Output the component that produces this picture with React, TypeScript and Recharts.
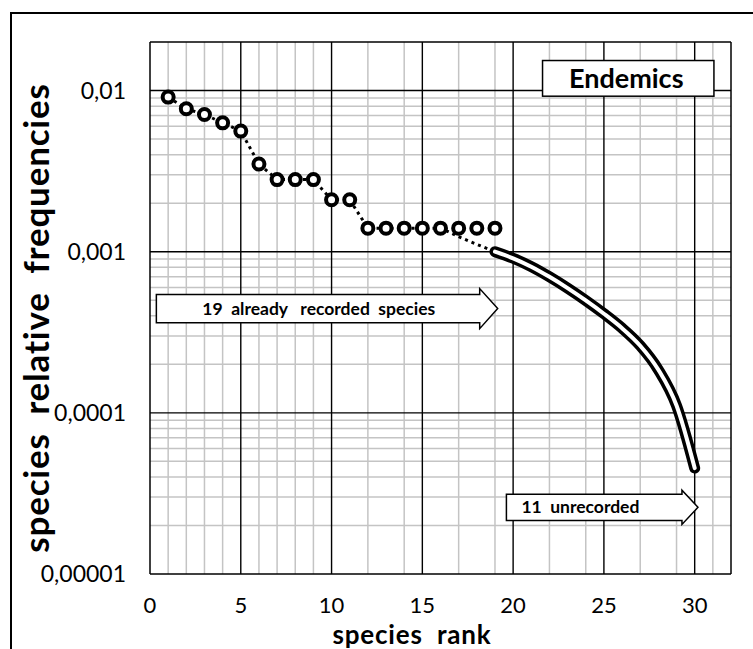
import { ComposedChart, Line, XAxis, YAxis, CartesianGrid, ReferenceLine, ReferenceArea } from 'recharts'

const OBSERVED_RANKS = [1, 2, 3, 4, 5, 6, 7, 8, 9, 10, 11, 12, 13, 14, 15, 16, 17, 18, 19]
const OBSERVED_FREQ = [0.0091, 0.0077, 0.0071, 0.0063, 0.0056, 0.0035, 0.0028, 0.0028, 0.0028, 0.0021, 0.0021, 0.0014, 0.0014, 0.0014, 0.0014, 0.0014, 0.0014, 0.0014, 0.0014]

const TREND_RANKS = [1, 2, 3, 4, 5, 6, 7, 8, 9, 10, 11, 12, 13, 14, 15, 16, 17, 18, 19]
const TREND_FREQ = [0.0091, 0.0077, 0.0071, 0.0063, 0.0056, 0.0035, 0.0028, 0.0028, 0.0028, 0.0021, 0.0021, 0.0014, 0.0014, 0.0014, 0.0014, 0.0014, 0.00124, 0.00111, 0.001]

const PROJECTED_RANKS = [19, 20, 21, 22, 23, 24, 25, 26, 27, 28, 29, 30]
const PROJECTED_FREQ = [0.001, 0.00091, 0.000807, 0.000698, 0.000594, 0.000498, 0.000412, 0.000335, 0.000261, 0.000185, 0.000111, 0.0000454]

const X_TICKS = [0, 5, 10, 15, 20, 25, 30]
const Y_TICKS = [0.00001, 0.0001, 0.001, 0.01]
const Y_TICK_LABELS = ['0,00001', '0,0001', '0,001', '0,01']

const X_MAJOR = [5, 10, 15, 20, 25, 30]
const X_MINOR = Array.from({ length: 31 }, (_, i) => i + 1).filter((v) => v % 5 !== 0)
const Y_MAJOR = [0.0001, 0.001, 0.01]
const Y_MINOR = Y_TICKS.flatMap((d) => [2, 3, 4, 5, 6, 7, 8, 9].map((m) => m * d)).filter((v) => v < 0.02)

const observed = OBSERVED_RANKS.map((rank, i) => ({ rank, freq: OBSERVED_FREQ[i] }))
const trend = TREND_RANKS.map((rank, i) => ({ rank, freq: TREND_FREQ[i] }))
const projected = PROJECTED_RANKS.map((rank, i) => ({ rank, freq: PROJECTED_FREQ[i] }))

const FONT = 'Lato, "Open Sans", sans-serif'

function arrow(label: string, headLen: number, inset: number, pad: number) {
  return (p: any) => {
    const { x, y, width, height } = p
    const x2 = x + width
    const top = y + inset
    const bot = y + height - inset
    const pts = [
      [x, top], [x2 - headLen, top], [x2 - headLen, y], [x2, y + height / 2],
      [x2 - headLen, y + height], [x2 - headLen, bot], [x, bot],
    ].map((q) => q.join(',')).join(' ')
    return (
      <g>
        <polygon points={pts} fill="#fff" stroke="#000" strokeWidth={1.5} />
        <text x={x + pad} y={y + height / 2 + 6} textAnchor="start"
          fontFamily={FONT} fontWeight={700} fontSize={17.5} fill="#000" style={{ whiteSpace: 'pre' }}>
          {label}
        </text>
      </g>
    )
  }
}

function titleBox(p: any) {
  const { x, y, width, height } = p
  return (
    <g>
      <rect x={x} y={y} width={width} height={height} fill="#fff" stroke="#000" strokeWidth={1.5} />
      <text x={x + width / 2 - 2} y={y + height / 2 + 10} textAnchor="middle"
        fontFamily={FONT} fontWeight={700} fontSize={27} fill="#000">Endemics</text>
    </g>
  )
}

export default function App() {
  return (
    <div style={{ position: 'absolute', left: 0, top: 0, width: 753, height: 649, background: '#fff', fontFamily: FONT }}>
      <div style={{ position: 'absolute', left: 10, top: 12, width: 1.5, height: 637, background: '#000' }} />
      <div style={{ position: 'absolute', left: 10, top: 12, width: 743, height: 1.5, background: '#000' }} />
      <div style={{ position: 'absolute', left: 0, top: 0 }}>
        <ComposedChart width={753} height={649} margin={{ top: 42, right: 22, bottom: 15, left: 30 }}>
          <CartesianGrid stroke="#c4c4c4" strokeWidth={1.5} horizontalValues={Y_MINOR} verticalValues={X_MINOR} />
          <CartesianGrid stroke="#000" strokeWidth={1.4} horizontalValues={Y_MAJOR} verticalValues={X_MAJOR} />
          <XAxis type="number" dataKey="rank" domain={[0, 32]} ticks={X_TICKS} allowDataOverflow
            height={60} tickSize={0} tickMargin={23} axisLine={false} tickLine={false}
            tick={{ fill: '#000', fontSize: 22, fontFamily: FONT }}
            label={() => (
              <text x={412} y={644} textAnchor="middle" fontFamily={FONT} fontWeight={700} fontSize={26} fill="#000"
                letterSpacing={0.8} style={{ whiteSpace: 'pre' }}>
                species  rank
              </text>
            )} />
          <YAxis type="number" scale="log" domain={[0.00001, 0.02]} ticks={Y_TICKS} allowDataOverflow
            width={120} tickSize={0} tickMargin={24} axisLine={false} tickLine={false}
            tickFormatter={(v: number) => Y_TICK_LABELS[Y_TICKS.indexOf(v)] ?? ''}
            tick={{ fill: '#000', fontSize: 23, fontFamily: FONT }}
            label={() => (
              <text x={0} y={0} transform="translate(49 318) rotate(-90)" textAnchor="middle"
                fontFamily={FONT} fontWeight={700} fontSize={35} fill="#000" letterSpacing={0.8}
                style={{ whiteSpace: 'pre' }}>
                species  relative  frequencies
              </text>
            )} />
          <ReferenceLine x={0} stroke="#000" strokeWidth={1.5} />
          <ReferenceLine x={32} stroke="#000" strokeWidth={1.5} />
          <ReferenceLine y={0.00001} stroke="#000" strokeWidth={1.5} />
          <ReferenceLine y={0.02} stroke="#000" strokeWidth={1.5} />
          <ReferenceArea x1={0.35} x2={19.15} y1={0.000333} y2={0.00059} ifOverflow="visible"
            shape={arrow('19  already   recorded  species', 18, 6, 46)} />
          <ReferenceArea x1={19.63} x2={30.18} y1={0.0000203} y2={0.0000331} ifOverflow="visible"
            shape={arrow('11  unrecorded', 16, 4, 15)} />
          <ReferenceArea x1={21.62} x2={31.06} y1={0.00922} y2={0.01535} ifOverflow="visible" shape={titleBox} />
          <Line data={trend} dataKey="freq" type="linear" stroke="#000" strokeWidth={3} strokeDasharray="3 4"
            dot={false} activeDot={false} isAnimationActive={false} />
          <Line data={projected} dataKey="freq" type="monotone" stroke="#000" strokeWidth={11} strokeLinecap="round"
            dot={false} activeDot={false} isAnimationActive={false} />
          <Line data={projected} dataKey="freq" type="monotone" stroke="#fff" strokeWidth={4} strokeLinecap="round"
            dot={false} activeDot={false} isAnimationActive={false} />
          <Line data={observed} dataKey="freq" type="linear" stroke="none"
            dot={{ r: 5.5, stroke: '#000', strokeWidth: 4, fill: '#fff' }} activeDot={false} isAnimationActive={false} />
        </ComposedChart>
      </div>
    </div>
  )
}
